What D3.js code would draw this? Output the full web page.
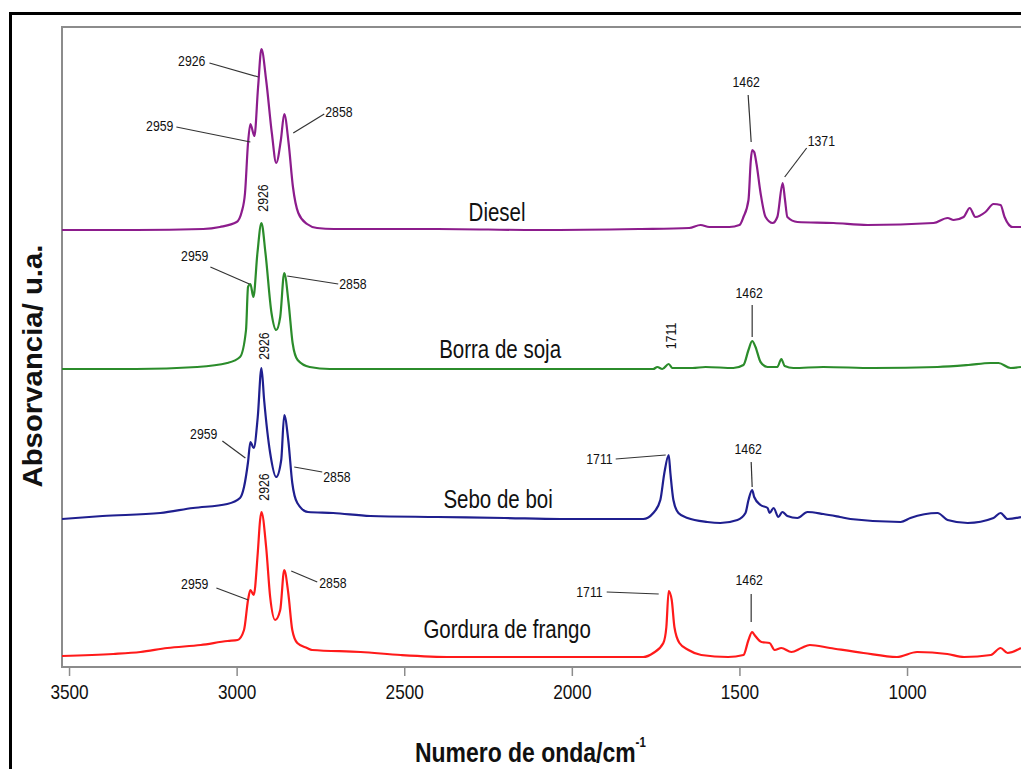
<!DOCTYPE html>
<html>
<head>
<meta charset="utf-8">
<script src="https://cdn.jsdelivr.net/npm/d3@7"></script>
<style>
body { margin: 0; background: white; }
</style>
</head>
<body>
<script>

// spectra: [wavenumber cm-1, absorbance a.u.]
var diesel = [[3521,0.00],[3300,0.00],[3100,0.01],[3050,0.03],[3000,0.08],[2985,0.18],[2975,0.37],[2966,0.87],[2959,1.06],[2947,0.94],[2936,1.43],[2926,1.81],[2912,1.50],[2895,0.97],[2882,0.67],[2868,0.90],[2858,1.16],[2845,0.87],[2832,0.43],[2816,0.17],[2790,0.06],[2760,0.02],[2710,0.01],[2400,0.01],[2100,0.00],[1800,0.01],[1650,0.02],[1616,0.05],[1590,0.03],[1530,0.03],[1500,0.05],[1488,0.13],[1473,0.30],[1466,0.70],[1462,0.80],[1456,0.78],[1449,0.66],[1437,0.37],[1422,0.13],[1401,0.07],[1387,0.13],[1371,0.47],[1364,0.30],[1357,0.13],[1327,0.08],[1219,0.07],[1118,0.05],[921,0.07],[879,0.12],[861,0.10],[831,0.13],[813,0.22],[796,0.13],[766,0.18],[742,0.26],[721,0.25],[709,0.13],[685,0.03],[660,0.03]];

var borra = [[3521,0.00],[3300,0.00],[3118,0.02],[3028,0.06],[2990,0.12],[2972,0.39],[2966,0.82],[2959,0.85],[2950,0.72],[2938,1.16],[2926,1.46],[2914,1.16],[2896,0.56],[2882,0.39],[2870,0.52],[2858,0.96],[2845,0.66],[2833,0.26],[2818,0.09],[2782,0.02],[2722,0.00],[1757,0.00],[1745,0.02],[1730,0.00],[1711,0.05],[1700,0.01],[1640,0.01],[1601,0.02],[1518,0.01],[1488,0.04],[1473,0.19],[1462,0.28],[1452,0.22],[1437,0.07],[1416,0.02],[1387,0.02],[1375,0.10],[1365,0.03],[1339,0.01],[1250,0.02],[1100,0.01],[909,0.02],[817,0.04],[751,0.06],[727,0.06],[691,0.01],[660,0.02]];

var sebo = [[3521,0.00],[3400,0.03],[3228,0.06],[3130,0.11],[3028,0.15],[2990,0.21],[2978,0.32],[2966,0.57],[2959,0.77],[2949,0.71],[2937,1.02],[2926,1.51],[2918,1.19],[2900,0.66],[2882,0.42],[2867,0.59],[2858,1.04],[2846,0.79],[2834,0.36],[2819,0.16],[2787,0.07],[2712,0.06],[2601,0.03],[2400,0.02],[2200,0.01],[2034,0.00],[1787,0.00],[1757,0.06],[1736,0.19],[1724,0.46],[1711,0.64],[1706,0.46],[1697,0.19],[1682,0.06],[1655,0.01],[1596,-0.03],[1557,-0.04],[1506,-0.01],[1482,0.06],[1473,0.19],[1462,0.29],[1456,0.22],[1437,0.14],[1416,0.11],[1410,0.06],[1398,0.11],[1384,0.02],[1372,0.07],[1357,0.03],[1327,0.01],[1297,0.07],[1250,0.05],[1200,0.02],[1169,0.00],[1019,-0.03],[990,0.01],[909,0.06],[879,-0.01],[819,-0.04],[742,0.01],[721,0.06],[700,0.00],[660,0.02]];

var gordura = [[3521,0.00],[3368,0.02],[3287,0.04],[3207,0.08],[3107,0.11],[3027,0.15],[2997,0.16],[2978,0.26],[2966,0.56],[2959,0.66],[2949,0.61],[2937,1.03],[2930,1.36],[2926,1.44],[2912,1.09],[2900,0.59],[2885,0.36],[2870,0.46],[2858,0.86],[2846,0.63],[2834,0.26],[2819,0.13],[2790,0.08],[2775,0.06],[2630,0.04],[2510,0.01],[2360,-0.01],[2150,-0.01],[1787,-0.01],[1757,0.03],[1727,0.13],[1718,0.29],[1711,0.65],[1702,0.56],[1694,0.29],[1679,0.13],[1652,0.06],[1614,0.01],[1534,-0.01],[1488,0.01],[1473,0.16],[1462,0.24],[1455,0.21],[1434,0.14],[1410,0.13],[1395,0.06],[1375,0.08],[1345,0.04],[1315,0.08],[1290,0.11],[1230,0.08],[1130,0.03],[1030,-0.01],[970,0.04],[880,0.02],[830,-0.01],[750,0.01],[721,0.08],[700,0.03],[660,0.08]];

var names = ["Diesel", "Borra de soja", "Sebo de boi", "Gordura de frango"];
var offsets = [4.37, 2.98, 1.48, 0.11];   // vertical stacking, a.u.
var colors = ["#8c1c8c", "#2b8c2b", "#1f1f8f", "#ff1a1a"];
var xTicks = [3500, 3000, 2500, 2000, 1500, 1000];

// peak labels: series index, wavenumber
var peaks = [
  [0, 2926], [0, 2959], [0, 2858], [0, 1462], [0, 1371],
  [1, 2926], [1, 2959], [1, 2858], [1, 1711], [1, 1462],
  [2, 2926], [2, 2959], [2, 2858], [2, 1711], [2, 1462],
  [3, 2926], [3, 2959], [3, 2858], [3, 1711], [3, 1462]
];

var spectra = [diesel, borra, sebo, gordura];

var width = 1021, height = 769;
var mLeft = 62, mRight = 1021, mTop = 27, mBottom = 667;

var font = "'Liberation Sans', Arial, sans-serif";
var squeeze = 0.82;   // the original lettering is condensed

var svg = d3.select('body').append('svg')
    .attr("width", width)
    .attr("height", height)
    .style("background-color", "white");

var x = d3.scaleLinear().domain([3521, 660]).range([mLeft, mRight]);
var y = d3.scaleLinear().domain([0, 6.4]).range([mBottom, mTop]);

// put a condensed text at px,py
function place(t, px, py) {
    return t.attr("x", 0).attr("y", 0)
        .attr("transform", "translate(" + px + "," + py + ") scale(" + squeeze + ",1)");
}

//outer black frame
svg.append("rect")
    .attr("x", 10.5).attr("y", 13.5)
    .attr("width", 1100).attr("height", 1000)
    .style("fill", "none")
    .style("stroke", "black")
    .style("stroke-width", 3);

svg.append("clipPath").attr("id", "plotclip")
    .append("rect")
    .attr("x", mLeft).attr("y", mTop)
    .attr("width", mRight - mLeft).attr("height", mBottom - mTop);

//plot frame
svg.append("rect")
    .attr("x", mLeft).attr("y", mTop)
    .attr("width", 1000).attr("height", mBottom - mTop)
    .style("fill", "none")
    .style("stroke", "#8c8c8c")
    .style("stroke-width", 2);

//x axis
var axis = svg.append("g")
    .attr("transform", "translate(0," + mBottom + ")")
    .call(d3.axisBottom(x).tickValues(xTicks).tickSize(9).tickSizeOuter(0).tickPadding(8).tickFormat(d3.format("d")));
axis.select(".domain").remove();
axis.selectAll(".tick line").style("stroke", "#8c8c8c").style("stroke-width", 1.5);
axis.selectAll(".tick text")
    .attr("font-family", font)
    .attr("font-size", "21px")
    .attr("fill", "#111")
    .attr("transform", "scale(" + squeeze + ",1)");

//spectra
var line = d3.line()
    .curve(d3.curveMonotoneX)
    .x(function(d){return x(d[0])});

var plot = svg.append("g").attr("clip-path", "url(#plotclip)");
spectra.forEach(function(s, i) {
    line.y(function(d){return y(d[1] + offsets[i])});
    plot.append("path")
        .datum(s)
        .attr("d", line)
        .style("fill", "none")
        .style("stroke", colors[i])
        .style("stroke-width", 2.2)
        .style("stroke-linejoin", "round");
});

//series names
var nameAt = [[2223, 4.46], [2214, 3.09], [2220, 1.59], [2193, 0.29]];
names.forEach(function(n, i) {
    var t = svg.append("text")
        .attr("text-anchor", "middle")
        .attr("font-family", font)
        .attr("font-size", "25px")
        .attr("fill", "#111")
        .text(n);
    place(t, x(nameAt[i][0]), y(nameAt[i][1]));
});

// label layout, pixel offsets from the peak: text dx,dy, anchor, rotate, leader line
var labelLayout = [
  {dx:-56, dy:17, a:"end", l:[-52,14,-3,28]},
  {dx:-77, dy:7, a:"end", l:[-74,3,0,18]},
  {dx:41, dy:3, a:"start", l:[40,0,9,19]},
  {dx:-6, dy:-63, a:"middle", l:[-4,-55,-1,-8]},
  {dx:25, dy:-37, a:"start", l:[24,-35,2,-6]},
  {dx:1, dy:-25, rot:true},
  {dx:-42, dy:-23, a:"end", l:[-40,-17,-1,0]},
  {dx:55, dy:16, a:"start", l:[54,11,3,3]},
  {dx:2, dy:-28, rot:true},
  {dx:-3, dy:-43, a:"middle", l:[0,-36,0,-4]},
  {dx:2, dy:-22, rot:true},
  {dx:-33, dy:-3, a:"end", l:[-28,-1,-5,16]},
  {dx:39, dy:67, a:"start", l:[10,52,38,57]},
  {dx:-56, dy:9, a:"end", l:[-53,4,-3,0]},
  {dx:-4, dy:-36, a:"middle", l:[-1,-28,0,-3]},
  {dx:2, dy:-25, rot:true},
  {dx:-42, dy:-1, a:"end", l:[-34,-2,-2,10]},
  {dx:35, dy:18, a:"start", l:[7,1,33,12]},
  {dx:-66, dy:6, a:"end", l:[-62,1,-10,3]},
  {dx:-3, dy:-47, a:"middle", l:[-1,-38,-1,-10]}
];

var labels = svg.append("g");
peaks.forEach(function(p, k) {
    var s = spectra[p[0]];
    var pt = s.find(function(d){return d[0] === p[1]});
    var px = x(pt[0]), py = y(pt[1] + offsets[p[0]]);
    var L = labelLayout[k];
    if (L.l) {
        labels.append("line")
            .attr("x1", px + L.l[0]).attr("y1", py + L.l[1])
            .attr("x2", px + L.l[2]).attr("y2", py + L.l[3])
            .style("stroke", "#333")
            .style("stroke-width", 1.2);
    }
    var t = labels.append("text")
        .attr("font-family", font)
        .attr("font-size", "15px")
        .attr("fill", "#111")
        .text(p[1]);
    if (L.rot) {
        t.attr("transform", "translate(" + (px + L.dx) + "," + (py + L.dy) + ") rotate(-90) scale(" + squeeze + ",1)")
         .attr("text-anchor", "middle")
         .attr("dy", "0.35em");
    } else {
        place(t, px + L.dx, py + L.dy).attr("text-anchor", L.a);
    }
});

//axis titles
var xt = svg.append("text")
    .attr("font-family", font)
    .attr("font-size", "28px")
    .attr("font-weight", "bold")
    .attr("fill", "#111");
xt.append("tspan").text("Numero de onda/cm");
xt.append("tspan").attr("dy", -15).attr("font-size", "14px").text("-1");
place(xt, 415, 762);

svg.append("text")
    .attr("transform", "translate(42,366) rotate(-90)")
    .attr("text-anchor", "middle")
    .attr("font-family", font)
    .attr("font-size", "27px")
    .attr("font-weight", "bold")
    .attr("fill", "#111")
    .attr("textLength", 243)
    .attr("lengthAdjust", "spacingAndGlyphs")
    .text("Absorvancia/ u.a.");

</script>
</body>
</html>
